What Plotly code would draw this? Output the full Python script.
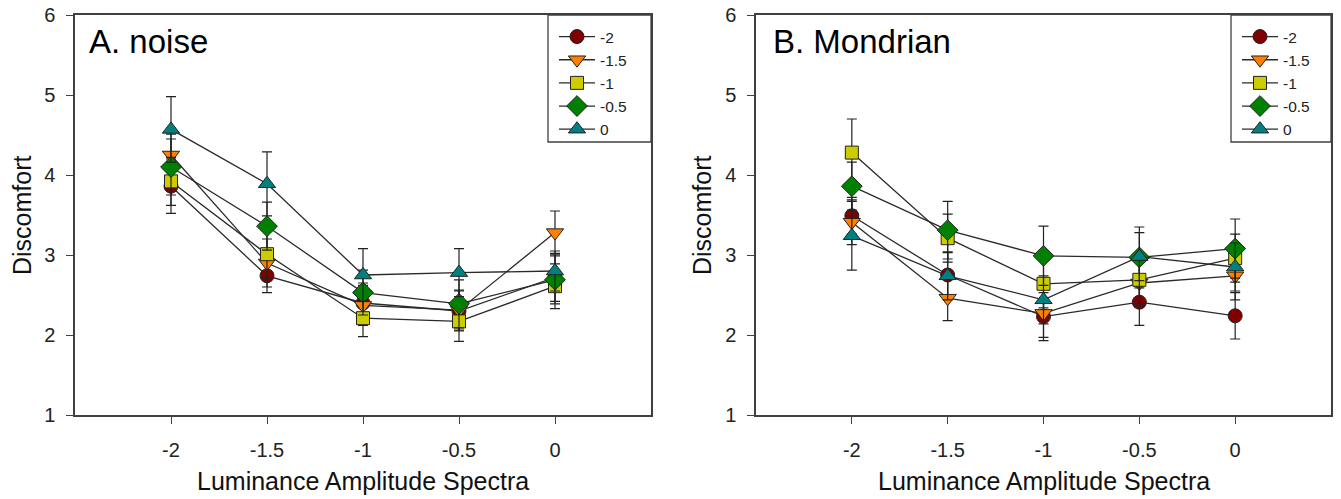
import plotly.graph_objects as go

W, H = 1341, 499

x_vals = [-2, -1.5, -1, -0.5, 0]
series_names = ["-2", "-1.5", "-1", "-0.5", "0"]
y_ticks = [1, 2, 3, 4, 5, 6]
x_ticks = [-2, -1.5, -1, -0.5, 0]

# Panel A: noise
a_m2 = [3.86, 2.74, 2.40, 2.30, 2.72]
a_m15 = [4.25, 2.90, 2.37, 2.31, 3.28]
a_m1 = [3.92, 3.01, 2.21, 2.17, 2.61]
a_m05 = [4.10, 3.36, 2.53, 2.39, 2.69]
a_0 = [4.57, 3.89, 2.75, 2.78, 2.80]
a_se_m2 = [0.34, 0.21, 0.25, 0.25, 0.30]
a_se_m15 = [0.26, 0.30, 0.25, 0.25, 0.27]
a_se_m1 = [0.30, 0.30, 0.23, 0.25, 0.28]
a_se_m05 = [0.35, 0.30, 0.28, 0.30, 0.30]
a_se_0 = [0.41, 0.40, 0.33, 0.30, 0.25]

# Panel B: Mondrian
b_m2 = [3.49, 2.75, 2.23, 2.41, 2.24]
b_m15 = [3.41, 2.46, 2.27, 2.65, 2.74]
b_m1 = [4.28, 3.21, 2.64, 2.69, 2.96]
b_m05 = [3.86, 3.31, 2.99, 2.97, 3.08]
b_0 = [3.24, 2.74, 2.44, 2.98, 2.85]
b_se_m2 = [0.23, 0.28, 0.30, 0.29, 0.29]
b_se_m15 = [0.28, 0.28, 0.30, 0.30, 0.30]
b_se_m1 = [0.42, 0.30, 0.30, 0.30, 0.30]
b_se_m05 = [0.30, 0.36, 0.37, 0.38, 0.37]
b_se_0 = [0.43, 0.30, 0.30, 0.30, 0.30]

symbols = ["circle", "triangle-down", "square", "diamond", "triangle-up"]
colors = ["#800000", "#FF8000", "#CCCC00", "#008000", "#008080"]
sizes = [14, 15, 13, 16, 15]

panel_a = [a_m2, a_m15, a_m1, a_m05, a_0]
panel_a_se = [a_se_m2, a_se_m15, a_se_m1, a_se_m05, a_se_0]
panel_b = [b_m2, b_m15, b_m1, b_m05, b_0]
panel_b_se = [b_se_m2, b_se_m15, b_se_m1, b_se_m05, b_se_0]

FONT = "Liberation Sans, Arial, sans-serif"
AX = "#404040"

# pixel layout
A_L, A_R, B_L, B_R, TOP, BOT = 75, 651, 756, 1331, 15, 415


def px(x):
    return x / W


def py(y):
    return 1 - y / H


fig = go.Figure()

for panel, ses, xa, ya, leg in [(panel_a, panel_a_se, "x", "y", "legend"),
                                (panel_b, panel_b_se, "x2", "y2", "legend2")]:
    for i in range(5):
        fig.add_trace(go.Scatter(
            x=x_vals, y=panel[i], name=series_names[i],
            mode="lines+markers", xaxis=xa, yaxis=ya, legend=leg,
            line=dict(color="#2a2a2a", width=1.3),
            marker=dict(symbol=symbols[i], color=colors[i], size=sizes[i],
                        line=dict(color="#222222", width=1)),
            error_y=dict(type="data", array=ses[i], visible=True,
                         color="#222222", thickness=1.2, width=5),
        ))

axis_common = dict(showline=True, linecolor=AX, linewidth=1.5, mirror=True,
                   ticks="outside", ticklen=7, tickcolor=AX, tickwidth=1.3,
                   showgrid=False, zeroline=False, automargin=False,
                   tickfont=dict(family=FONT, size=20, color="#222222"))

legend_common = dict(xanchor="left", yanchor="top",
                     bgcolor="rgba(0,0,0,0)", borderwidth=0,
                     font=dict(family=FONT, size=15.5, color="#222222"),
                     tracegroupgap=0, itemwidth=36)

fig.update_layout(
    width=W, height=H, margin=dict(l=0, r=0, t=0, b=0, pad=0, autoexpand=False),
    paper_bgcolor="white", plot_bgcolor="white",
    xaxis=dict(domain=[px(A_L), px(A_R)], range=[-2.5, 0.5], tickvals=x_ticks,
               ticktext=[str(v) for v in x_ticks], anchor="y",
               ticklabelstandoff=9, **axis_common),
    yaxis=dict(domain=[py(BOT), py(TOP)], range=[1, 6], tickvals=y_ticks,
               anchor="x", ticklabelstandoff=7, **axis_common),
    xaxis2=dict(domain=[px(B_L), px(B_R)], range=[-2.5, 0.5], tickvals=x_ticks,
                ticktext=[str(v) for v in x_ticks], anchor="y2",
                ticklabelstandoff=9, **axis_common),
    yaxis2=dict(domain=[py(BOT), py(TOP)], range=[1, 6], tickvals=y_ticks,
                anchor="x2", ticklabelstandoff=7, **axis_common),
    legend=dict(x=px(554), y=py(20), **legend_common),
    legend2=dict(x=px(1237), y=py(20), **legend_common),
    showlegend=True,
)

# legend boxes
for l, r in [(548, A_R), (1231, B_R)]:
    fig.add_shape(type="rect", xref="paper", yref="paper",
                  x0=px(l), x1=px(r), y0=py(142), y1=py(TOP),
                  line=dict(color=AX, width=1.3), fillcolor="rgba(0,0,0,0)")

ann = []
for cx, label in [(87, "A. noise"), (771, "B. Mondrian")]:
    ann.append(dict(x=px(cx), y=py(42), xref="paper", yref="paper",
                    text=label, showarrow=False, xanchor="left", yanchor="middle",
                    font=dict(family=FONT, size=33, color="black")))
for cx in [22, 702]:
    ann.append(dict(x=px(cx), y=py((TOP + BOT) / 2), xref="paper", yref="paper",
                    text="Discomfort", showarrow=False, textangle=-90,
                    xanchor="center", yanchor="middle",
                    font=dict(family=FONT, size=25, color="#111111")))
for cx in [(A_L + A_R) / 2, (B_L + B_R) / 2]:
    ann.append(dict(x=px(cx), y=py(481), xref="paper", yref="paper",
                    text="Luminance Amplitude Spectra", showarrow=False,
                    xanchor="center", yanchor="middle",
                    font=dict(family=FONT, size=25, color="#111111")))
fig.update_layout(annotations=ann)

fig.write_html("out.html")
